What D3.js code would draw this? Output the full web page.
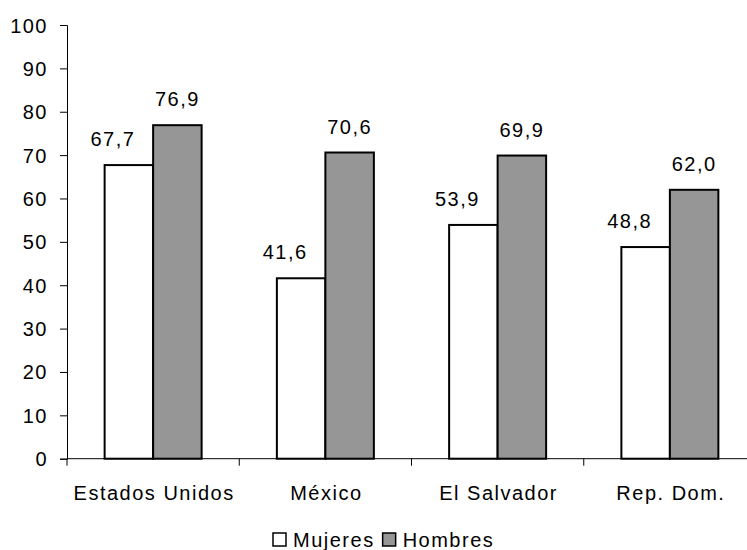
<!DOCTYPE html>
<html>
<head>
<meta charset="utf-8">
<script src="https://cdn.jsdelivr.net/npm/d3@7"></script>
<style>
  body { margin: 0; background: #fff; }
  text { font-family: Arial, "Liberation Sans", sans-serif; font-size: 20px; letter-spacing: 1.5px; fill: #000; }
</style>
</head>
<body>
<div id="chart"></div>
<script>
// data
var paises = ["Estados Unidos", "México", "El Salvador", "Rep. Dom."];
var series = ["Mujeres", "Hombres"];
var mujeres = [67.7, 41.6, 53.9, 48.8];
var hombres = [76.9, 70.6, 69.9, 62.0];
var yTicks = [0, 10, 20, 30, 40, 50, 60, 70, 80, 90, 100];

var colores = { "Mujeres": "#ffffff", "Hombres": "#969696" };

var w = 747, h = 550;
var plotLeft = 67, plotRight = 756, plotBottom = 458.7, plotTop = 25;

var svg = d3.select("#chart").append("svg")
	.attr("width", w)
	.attr("height", h);

var x = d3.scaleBand().domain(paises).range([plotLeft, plotRight]).padding(0);
var xs = d3.scaleBand().domain(series).range([0, x.bandwidth()]).paddingInner(0).paddingOuter(0.776);
var y = d3.scaleLinear().domain([0, 100]).range([plotBottom, plotTop]);

// y axis
var yAxis = d3.axisLeft(y).tickValues(yTicks).tickSize(7).tickPadding(12).tickFormat(d3.format("d"));
var gy = svg.append("g")
	.attr("transform", "translate(" + plotLeft + ",0)")
	.call(yAxis);
gy.attr("font-size", null).attr("font-family", null);
gy.select(".domain").attr("stroke", "#000").attr("stroke-width", 1);
gy.selectAll(".tick line").attr("stroke", "#000");
gy.selectAll(".tick text").attr("dy", "0.35em");

// bars
var datos = paises.map(function(p, i) {
	return { pais: p, valores: [{ s: "Mujeres", v: mujeres[i] }, { s: "Hombres", v: hombres[i] }] };
});

var grupo = svg.selectAll("g.pais").data(datos).enter().append("g")
	.attr("class", "pais")
	.attr("transform", function(d) { return "translate(" + x(d.pais) + ",0)"; });

grupo.selectAll("rect").data(function(d) { return d.valores; }).enter().append("rect")
	.attr("x", function(d) { return xs(d.s); })
	.attr("y", function(d) { return y(d.v); })
	.attr("width", xs.bandwidth())
	.attr("height", function(d) { return y(0) - y(d.v); })
	.attr("fill", function(d) { return colores[d.s]; })
	.attr("stroke", "#000")
	.attr("stroke-width", 2);

// value labels, white ones sit a bit to the left like in the original
grupo.selectAll("text.valor").data(function(d) { return d.valores; }).enter().append("text")
	.attr("class", "valor")
	.attr("x", function(d) { return xs(d.s) + xs.bandwidth() / 2 + (d.s == "Mujeres" ? -16 : 0); })
	.attr("y", function(d) { return y(d.v) - 19; })
	.attr("text-anchor", "middle")
	.text(function(d) { return d3.format(".1f")(d.v).replace(".", ","); });

// x axis line and ticks at category boundaries
svg.append("line")
	.attr("x1", plotLeft).attr("x2", plotRight)
	.attr("y1", y(0)).attr("y2", y(0))
	.attr("stroke", "#000");

var bordes = paises.map(function(p) { return x(p); });
svg.selectAll("line.xtick").data(bordes).enter().append("line")
	.attr("class", "xtick")
	.attr("x1", function(d) { return d; }).attr("x2", function(d) { return d; })
	.attr("y1", y(0)).attr("y2", y(0) + 7)
	.attr("stroke", "#000");

svg.selectAll("text.cat").data(paises).enter().append("text")
	.attr("class", "cat")
	.attr("x", function(d) { return x(d) + x.bandwidth() / 2 + 1; })
	.attr("y", 500)
	.attr("text-anchor", "middle")
	.text(function(d) { return d; });

// legend
var leg = svg.append("g").attr("transform", "translate(273,533)");
var lx = 0;
series.forEach(function(s) {
	leg.append("rect")
		.attr("x", lx).attr("y", 0)
		.attr("width", 13).attr("height", 13)
		.attr("fill", colores[s])
		.attr("stroke", "#000")
		.attr("stroke-width", 1.5);
	var t = leg.append("text")
		.attr("x", lx + 20)
		.attr("y", 14)
		.text(s);
	lx = lx + 20 + t.node().getComputedTextLength() + 8;
});
</script>
</body>
</html>
